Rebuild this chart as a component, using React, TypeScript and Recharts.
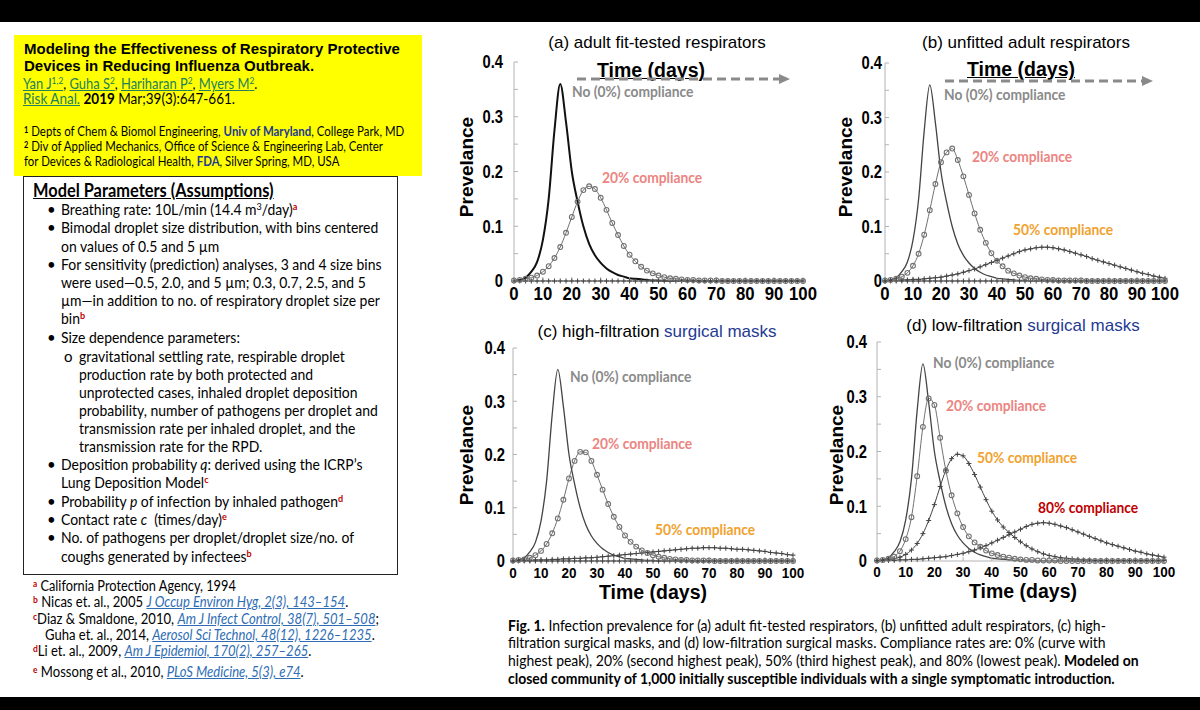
import React from "react";
import { Line, LineChart, XAxis, YAxis } from "recharts";

const days = [
  0, 2, 4, 6, 8, 10, 12, 14, 16, 18, 20, 22, 24, 26, 28, 30, 32, 34, 36, 38, 40, 42, 44, 46, 48, 50,
  52, 54, 56, 58, 60, 62, 64, 66, 68, 70, 72, 74, 76, 78, 80, 82, 84, 86, 88, 90, 92, 94, 96, 98, 100,
];

// 0% compliance, same curve in every panel
const noCompliance = [
  0.0, 0.002, 0.006, 0.017, 0.035, 0.075, 0.15, 0.275, 0.36, 0.29, 0.2, 0.145, 0.1, 0.068, 0.047, 0.033,
  0.023, 0.016, 0.011, 0.008, 0.005, 0.004, 0.003, 0.002, 0.001, 0.001,
  0, 0, 0, 0, 0, 0, 0, 0, 0, 0, 0, 0, 0, 0, 0, 0, 0, 0, 0, 0, 0, 0, 0, 0, 0,
];

const nearZero = [
  0, 0, 0, 0, 0, 0, 0, 0, 0, 0, 0, 0, 0, 0, 0, 0, 0, 0, 0, 0, 0, 0, 0, 0, 0, 0,
  0, 0, 0, 0, 0, 0, 0, 0, 0, 0, 0, 0, 0, 0, 0, 0, 0, 0, 0, 0, 0, 0, 0, 0, 0,
];

// (a) adult fit-tested respirators
const fitTested20 = [
  0.001, 0.002, 0.004, 0.006, 0.01, 0.017, 0.027, 0.042, 0.062, 0.088, 0.117, 0.145, 0.166, 0.173, 0.168,
  0.152, 0.13, 0.106, 0.084, 0.064, 0.048, 0.036, 0.026, 0.019, 0.014, 0.01,
  0.007, 0.005, 0.004, 0.003, 0.002, 0.002, 0.001, 0.001, 0.001, 0.001,
  0, 0, 0, 0, 0, 0, 0, 0, 0, 0, 0, 0, 0, 0, 0,
];

// (b) unfitted adult respirators
const unfitted20 = [
  0.001, 0.002, 0.004, 0.008, 0.015, 0.028, 0.05, 0.085, 0.13, 0.178, 0.218, 0.236, 0.243, 0.222, 0.192,
  0.158, 0.124, 0.094, 0.07, 0.051, 0.037, 0.027, 0.019, 0.014, 0.01, 0.007,
  0.005, 0.004, 0.003, 0.002, 0.002, 0.001, 0.001, 0.001, 0.001, 0.001,
  0, 0, 0, 0, 0, 0, 0, 0, 0, 0, 0, 0, 0, 0, 0,
];
const unfitted50 = [
  0.0, 0.001, 0.001, 0.002, 0.002, 0.003, 0.003, 0.004, 0.005, 0.006, 0.007, 0.009, 0.011, 0.013, 0.016,
  0.019, 0.022, 0.026, 0.03, 0.034, 0.038, 0.042, 0.046, 0.05, 0.054, 0.057,
  0.059, 0.061, 0.062, 0.062, 0.061, 0.059, 0.057, 0.054, 0.051, 0.048, 0.045, 0.041, 0.038, 0.035, 0.032,
  0.029, 0.026, 0.023, 0.02, 0.017, 0.014, 0.012, 0.009, 0.007, 0.005,
];

// (c) high-filtration surgical masks
const highFilt20 = [
  0.001, 0.002, 0.003, 0.006, 0.011, 0.019, 0.032, 0.052, 0.08, 0.115, 0.155, 0.188, 0.205, 0.204, 0.188,
  0.162, 0.134, 0.107, 0.083, 0.064, 0.048, 0.036, 0.027, 0.02, 0.015, 0.011,
  0.008, 0.006, 0.004, 0.003, 0.002, 0.002, 0.001, 0.001, 0.001, 0.001,
  0, 0, 0, 0, 0, 0, 0, 0, 0, 0, 0, 0, 0, 0, 0,
];
const highFilt50 = [
  0.0, 0.001, 0.001, 0.001, 0.002, 0.002, 0.002, 0.003, 0.003, 0.004, 0.004, 0.005, 0.005, 0.006, 0.006,
  0.007, 0.008, 0.009, 0.01, 0.011, 0.012, 0.013, 0.014, 0.015, 0.016, 0.017,
  0.018, 0.019, 0.02, 0.021, 0.022, 0.023, 0.024, 0.024, 0.025, 0.025, 0.025, 0.024, 0.024, 0.023, 0.022,
  0.022, 0.021, 0.02, 0.019, 0.018, 0.016, 0.015, 0.014, 0.012, 0.011,
];

// (d) low-filtration surgical masks
const lowFilt20 = [
  0.001, 0.002, 0.004, 0.008, 0.018, 0.04, 0.08, 0.155, 0.245, 0.297, 0.285, 0.225, 0.165, 0.12, 0.087,
  0.062, 0.045, 0.034, 0.026, 0.019, 0.014, 0.011, 0.008, 0.006, 0.004, 0.003,
  0.002, 0.002, 0.001, 0.001, 0.001, 0.001,
  0, 0, 0, 0, 0, 0, 0, 0, 0, 0, 0, 0, 0, 0, 0, 0, 0, 0, 0,
];
const lowFilt50 = [
  0.001, 0.001, 0.002, 0.004, 0.007, 0.012, 0.02, 0.032, 0.05, 0.074, 0.103, 0.136, 0.166, 0.187, 0.195,
  0.192, 0.178, 0.158, 0.135, 0.112, 0.091, 0.075, 0.062, 0.052, 0.043, 0.035,
  0.028, 0.022, 0.017, 0.013, 0.01, 0.008, 0.006, 0.005, 0.004, 0.003, 0.002, 0.002,
  0.001, 0.001, 0.001, 0.001, 0.001, 0.001, 0.001, 0.001, 0.001, 0.001, 0.001, 0.001, 0.001,
];
const lowFilt80 = [
  0.0, 0.001, 0.001, 0.001, 0.002, 0.002, 0.003, 0.003, 0.004, 0.005, 0.006, 0.007, 0.008, 0.01, 0.012,
  0.014, 0.017, 0.02, 0.024, 0.028, 0.033, 0.038, 0.043, 0.048, 0.053, 0.058,
  0.063, 0.067, 0.069, 0.07, 0.069, 0.067, 0.064, 0.061, 0.057, 0.053, 0.049, 0.045, 0.041, 0.037, 0.033,
  0.03, 0.027, 0.024, 0.021, 0.018, 0.016, 0.013, 0.011, 0.009, 0.007,
];

const xTicks = [0, 10, 20, 30, 40, 50, 60, 70, 80, 90, 100];
const yTicks = [0, 0.05, 0.1, 0.15, 0.2, 0.25, 0.3, 0.35, 0.4];

const CAL = "Lato, 'Open Sans', sans-serif";
const ARIAL = "'Liberation Sans', Arial, sans-serif";
const FRAME = "#b3b3b3";
const GREY_TXT = "#8a8a8a";
const PINK = "#ec8481";
const ORANGE = "#f1a22e";
const DARKRED = "#c00000";
const LINK_GREEN = "#23805c";
const LINK_BLUE = "#2e6db4";
const NAVY = "#1f3a93";
const SX = 0.93;

const rowsA = days.map((day, i) => ({ day, c0: noCompliance[i], c20: fitTested20[i], c50: nearZero[i] }));
const rowsB = days.map((day, i) => ({ day, c0: noCompliance[i], c20: unfitted20[i], c50: unfitted50[i], c80: nearZero[i] }));
const rowsC = days.map((day, i) => ({ day, c0: noCompliance[i], c20: highFilt20[i], c50: highFilt50[i], c80: nearZero[i] }));
const rowsD = days.map((day, i) => ({ day, c0: noCompliance[i], c20: lowFilt20[i], c50: lowFilt50[i], c80: lowFilt80[i] }));

type Kind = "solid" | "circle" | "plus";
interface Series {
  key: string;
  kind: Kind;
  color: string;
  width: number;
}

function plusDot(color: string) {
  return (p: any) => {
    const { cx, cy, index } = p;
    if (typeof cx !== "number" || typeof cy !== "number") return <g key={`n${index}`} />;
    return (
      <path
        key={`p${index}`}
        d={`M${cx - 2.5},${cy}H${cx + 2.5}M${cx},${cy - 2.5}V${cy + 2.5}`}
        stroke={color}
        strokeWidth={1}
        fill="none"
      />
    );
  };
}

// bold Helvetica-ish tick labels, squeezed horizontally like the MATLAB export
function boldTick(size: number, sx: number, axis: "x" | "y") {
  return (p: any) => {
    const { x, y, payload, textAnchor, index } = p;
    const v = payload.value as number;
    const label = axis === "y" ? (Math.round(v * 100) % 10 === 0 ? String(v) : "") : String(v);
    if (!label) return <g key={`e${index}`} />;
    return (
      <text
        key={`t${index}`}
        x={0}
        y={0}
        transform={`translate(${x},${y}) scale(${sx},1)`}
        textAnchor={textAnchor}
        dy={axis === "x" ? "0.71em" : "0.355em"}
        fontSize={size}
        fontWeight={700}
        fontFamily={ARIAL}
        fill="#000"
      >
        {label}
      </text>
    );
  };
}

interface PanelProps {
  left: number;
  top: number;
  width: number;
  height: number;
  margin: { top: number; right: number; left: number; bottom: number };
  yWidth: number;
  yGap: number;
  xGap: number;
  xFont: number;
  rows: object[];
  series: Series[];
}

function Panel({ left, top, width, height, margin, yWidth, yGap, xGap, xFont, rows, series }: PanelProps) {
  return (
    <div style={{ position: "absolute", left, top }}>
      <LineChart width={width} height={height} data={rows} margin={margin}>
        <XAxis
          dataKey="day"
          type="number"
          domain={[0, 100]}
          ticks={xTicks}
          interval={0}
          tick={boldTick(xFont, 0.93, "x")}
          axisLine={{ stroke: FRAME }}
          tickLine={{ stroke: FRAME }}
          tickSize={-4}
          tickMargin={xGap}
          height={29}
        />
        <XAxis
          xAxisId="top"
          orientation="top"
          dataKey="day"
          type="number"
          domain={[0, 100]}
          ticks={xTicks}
          tick={false}
          mirror
          height={0}
          tickSize={4}
          axisLine={{ stroke: FRAME }}
          tickLine={{ stroke: FRAME }}
        />
        <YAxis
          domain={[0, 0.4]}
          ticks={yTicks}
          interval={0}
          width={yWidth}
          tick={boldTick(18, 0.82, "y")}
          axisLine={{ stroke: FRAME }}
          tickLine={{ stroke: FRAME }}
          tickSize={-4}
          tickMargin={yGap}
        />
        <YAxis
          yAxisId="right"
          orientation="right"
          domain={[0, 0.4]}
          ticks={yTicks}
          tick={false}
          mirror
          width={0}
          tickSize={4}
          axisLine={{ stroke: FRAME }}
          tickLine={{ stroke: FRAME }}
        />
        {series.map((s) => (
          <Line
            key={s.key}
            dataKey={s.key}
            type="monotone"
            stroke={s.color}
            strokeWidth={s.width}
            dot={
              s.kind === "circle"
                ? { r: 2.4, stroke: s.color, strokeWidth: 1.1, fill: "none" }
                : s.kind === "plus"
                ? plusDot(s.color)
                : false
            }
            activeDot={false}
            isAnimationActive={false}
          />
        ))}
      </LineChart>
    </div>
  );
}

interface TProps {
  x: number;
  y: number;
  size: number;
  children: React.ReactNode;
  font?: string;
  weight?: number;
  color?: string;
  sx?: number;
  middle?: boolean;
  style?: React.CSSProperties;
}

// y is the text baseline
function T({ x, y, size, children, font = CAL, weight = 400, color = "#000", sx = 1, middle = false, style }: TProps) {
  const asc = font === CAL ? 0.887 : 0.85;
  return (
    <div
      style={{
        position: "absolute",
        left: x,
        top: y - size * asc,
        fontFamily: font,
        fontSize: size,
        fontWeight: weight,
        color,
        lineHeight: `${size}px`,
        whiteSpace: "nowrap",
        transform: `${middle ? "translateX(-50%) " : ""}scaleX(${sx})`,
        transformOrigin: middle ? "center" : "left",
        ...style,
      }}
    >
      {children}
    </div>
  );
}

function Sup({ children, color, bold }: { children: React.ReactNode; color?: string; bold?: boolean }) {
  return (
    <span
      style={{
        fontSize: "0.65em",
        position: "relative",
        top: "-0.45em",
        color,
        fontWeight: bold ? 700 : undefined,
      }}
    >
      {children}
    </span>
  );
}

function Link({ children, color = LINK_GREEN, italic }: { children: React.ReactNode; color?: string; italic?: boolean }) {
  return (
    <span style={{ color, textDecoration: "underline", fontStyle: italic ? "italic" : undefined }}>{children}</span>
  );
}

function YLabel({ x, y }: { x: number; y: number }) {
  return (
    <div
      style={{
        position: "absolute",
        left: x,
        top: y,
        transform: "translate(-50%, -50%) rotate(-90deg)",
        fontFamily: ARIAL,
        fontWeight: 700,
        fontSize: 19,
        whiteSpace: "nowrap",
      }}
    >
      Prevelance
    </div>
  );
}

function TimeArrow({ x1, x2, y }: { x1: number; x2: number; y: number }) {
  const w = x2 - x1;
  return (
    <svg style={{ position: "absolute", left: x1, top: y - 6 }} width={w} height={12}>
      <line x1={0} y1={6} x2={w - 10} y2={6} stroke="#8a8a8a" strokeWidth={3} strokeDasharray="9 5" />
      <polygon points={`${w - 11},1 ${w},6 ${w - 11},11`} fill="#8a8a8a" />
    </svg>
  );
}

const Bullet = ({ y }: { y: number }) => (
  <T x={47} y={y} size={15}>
    •
  </T>
);

export default function App() {
  const c0 = (color: string, width: number): Series => ({ key: "c0", kind: "solid", color, width });
  const c20: Series = { key: "c20", kind: "circle", color: "#717171", width: 1 };
  const c50: Series = { key: "c50", kind: "plus", color: "#444", width: 1 };
  const c80: Series = { key: "c80", kind: "plus", color: "#444", width: 1 };
  const note = { size: 15, weight: 700, sx: 0.92 };

  return (
    <div
      style={{
        position: "fixed",
        left: 0,
        top: 0,
        width: 1200,
        height: 710,
        background: "#fff",
        overflow: "hidden",
        fontFamily: CAL,
      }}
    >
      <div style={{ position: "absolute", left: 0, top: 0, width: 1200, height: 22, background: "#000" }} />
      <div style={{ position: "absolute", left: 0, top: 697, width: 1200, height: 13, background: "#000" }} />

      {/* citation block */}
      <div style={{ position: "absolute", left: 14, top: 35, width: 408, height: 141, background: "#ffff00" }} />
      <T x={24} y={54} size={15} font={ARIAL} weight={700}>
        Modeling the Effectiveness of Respiratory Protective
      </T>
      <T x={24} y={71} size={15} font={ARIAL} weight={700}>
        Devices in Reducing Influenza Outbreak.
      </T>
      <T x={23} y={89} size={15} sx={0.86}>
        <Link>
          Yan J<Sup>1,2</Sup>
        </Link>
        , <Link>
          Guha S<Sup>2</Sup>
        </Link>
        , <Link>
          Hariharan P<Sup>2</Sup>
        </Link>
        , <Link>
          Myers M<Sup>2</Sup>
        </Link>
        .
      </T>
      <T x={23} y={104} size={15} sx={0.9}>
        <Link>Risk Anal.</Link> <b>2019</b> Mar;39(3):647-661.
      </T>
      <T x={24} y={137} size={13} sx={0.88}>
        <Sup bold>1</Sup> Depts of Chem &amp; Biomol Engineering, <b style={{ color: NAVY }}>Univ of Maryland</b>, College
        Park, MD
      </T>
      <T x={24} y={152} size={13} sx={0.88}>
        <Sup bold>2</Sup> Div of Applied Mechanics, Office of Science &amp; Engineering Lab, Center
      </T>
      <T x={24} y={167} size={13} sx={0.88}>
        for Devices &amp; Radiological Health, <b style={{ color: NAVY }}>FDA</b>, Silver Spring, MD, USA
      </T>

      {/* model parameters */}
      <div
        style={{
          position: "absolute",
          left: 23,
          top: 176,
          width: 373,
          height: 397,
          border: "1.5px solid #222",
        }}
      />
      <T x={33} y={197} size={18} weight={700} sx={0.91} style={{ textDecoration: "underline" }}>
        Model Parameters (Assumptions)
      </T>
      <Bullet y={215} />
      <T x={61} y={215} size={15} sx={SX}>
        Breathing rate: 10L/min (14.4 m<Sup>3</Sup>/day)<Sup color={DARKRED} bold>a</Sup>
      </T>
      <Bullet y={233} />
      <T x={61} y={233} size={15} sx={SX}>
        Bimodal droplet size distribution, with bins centered
      </T>
      <T x={61} y={252} size={15} sx={SX}>
        on values of 0.5 and 5 µm
      </T>
      <Bullet y={270} />
      <T x={61} y={270} size={15} sx={SX}>
        For sensitivity (prediction) analyses, 3 and 4 size bins
      </T>
      <T x={61} y={288} size={15} sx={SX}>
        were used—0.5, 2.0, and 5 µm; 0.3, 0.7, 2.5, and 5
      </T>
      <T x={61} y={306} size={15} sx={SX}>
        µm—in addition to no. of respiratory droplet size per
      </T>
      <T x={61} y={324} size={15} sx={SX}>
        bin<Sup color={DARKRED} bold>b</Sup>
      </T>
      <Bullet y={343} />
      <T x={61} y={343} size={15} sx={SX}>
        Size dependence parameters:
      </T>
      <T x={64} y={362} size={15}>
        o
      </T>
      <T x={79} y={362} size={15} sx={SX}>
        gravitational settling rate, respirable droplet
      </T>
      <T x={79} y={380} size={15} sx={SX}>
        production rate by both protected and
      </T>
      <T x={79} y={398} size={15} sx={SX}>
        unprotected cases, inhaled droplet deposition
      </T>
      <T x={79} y={416} size={15} sx={SX}>
        probability, number of pathogens per droplet and
      </T>
      <T x={79} y={434} size={15} sx={SX}>
        transmission rate per inhaled droplet, and the
      </T>
      <T x={79} y={452} size={15} sx={SX}>
        transmission rate for the RPD.
      </T>
      <Bullet y={470} />
      <T x={61} y={470} size={15} sx={SX}>
        Deposition probability <i>q</i>: derived using the ICRP’s
      </T>
      <T x={61} y={488} size={15} sx={SX}>
        Lung Deposition Model<Sup color={DARKRED} bold>c</Sup>
      </T>
      <Bullet y={507} />
      <T x={61} y={507} size={15} sx={SX}>
        Probability <i>p</i> of infection by inhaled pathogen<Sup color={DARKRED} bold>d</Sup>
      </T>
      <Bullet y={525} />
      <T x={61} y={525} size={15} sx={SX}>
        Contact rate <i>c</i>&nbsp; (times/day)<Sup color={DARKRED} bold>e</Sup>
      </T>
      <Bullet y={543} />
      <T x={61} y={543} size={15} sx={SX}>
        No. of pathogens per droplet/droplet size/no. of
      </T>
      <T x={61} y={562} size={15} sx={SX}>
        coughs generated by infectees<Sup color={DARKRED} bold>b</Sup>
      </T>

      {/* references */}
      <T x={33} y={592} size={14.5} sx={0.88}>
        <Sup color={DARKRED} bold>a</Sup> California Protection Agency, 1994
      </T>
      <T x={33} y={608} size={14.5} sx={0.9}>
        <Sup color={DARKRED} bold>b</Sup> Nicas et. al., 2005{" "}
        <Link color={LINK_BLUE} italic>
          J Occup Environ Hyg, 2(3), 143–154
        </Link>
        .
      </T>
      <T x={33} y={625} size={14.5} sx={0.9}>
        <Sup color={DARKRED} bold>c</Sup>Diaz &amp; Smaldone, 2010,{" "}
        <Link color={LINK_BLUE} italic>
          Am J Infect Control, 38(7), 501–508
        </Link>
        ;
      </T>
      <T x={45} y={641} size={14.5} sx={0.9}>
        Guha et. al., 2014,{" "}
        <Link color={LINK_BLUE} italic>
          Aerosol Sci Technol, 48(12), 1226–1235
        </Link>
        .
      </T>
      <T x={33} y={657} size={14.5} sx={0.9}>
        <Sup color={DARKRED} bold>d</Sup>Li et. al., 2009,{" "}
        <Link color={LINK_BLUE} italic>
          Am J Epidemiol, 170(2), 257–265
        </Link>
        .
      </T>
      <T x={33} y={678} size={14.5} sx={0.9}>
        <Sup color={DARKRED} bold>e</Sup> Mossong et al., 2010,{" "}
        <Link color={LINK_BLUE} italic>
          PLoS Medicine, 5(3), e74
        </Link>
        .
      </T>

      {/* panel (a) */}
      <Panel
        left={440}
        top={40}
        width={385}
        height={270}
        margin={{ top: 22, right: 22, left: 0, bottom: 0 }}
        yWidth={74}
        yGap={15}
        xGap={10}
        xFont={18}
        rows={rowsA}
        series={[c50, c20, c0("#111", 2)]}
      />
      <T x={657} y={48} size={17} font={ARIAL} middle>
        (a) adult fit-tested respirators
      </T>
      <YLabel x={467} y={167} />
      <T x={651} y={78} size={19.5} font={ARIAL} weight={700} middle style={{ textDecoration: "underline" }}>
        Time (days)
      </T>
      <TimeArrow x1={577} x2={790} y={79} />
      <T x={572} y={97} {...note} color={GREY_TXT}>
        No (0%) compliance
      </T>
      <T x={602} y={183} {...note} color={PINK}>
        20% compliance
      </T>

      {/* panel (b) */}
      <Panel
        left={815}
        top={40}
        width={372}
        height={270}
        margin={{ top: 23, right: 22, left: 0, bottom: 0 }}
        yWidth={70}
        yGap={7}
        xGap={10}
        xFont={18}
        rows={rowsB}
        series={[c80, c50, c20, c0("#444", 1.3)]}
      />
      <T x={1026} y={48} size={17} font={ARIAL} middle>
        (b) unfitted adult respirators
      </T>
      <YLabel x={846} y={167} />
      <T x={1021} y={77} size={19.5} font={ARIAL} weight={700} middle style={{ textDecoration: "underline" }}>
        Time (days)
      </T>
      <TimeArrow x1={945} x2={1153} y={81} />
      <T x={944} y={100} {...note} color={GREY_TXT}>
        No (0%) compliance
      </T>
      <T x={972} y={162} {...note} color={PINK}>
        20% compliance
      </T>
      <T x={1013} y={235} {...note} color={ORANGE}>
        50% compliance
      </T>

      {/* panel (c) */}
      <Panel
        left={440}
        top={330}
        width={375}
        height={260}
        margin={{ top: 18, right: 22, left: 0, bottom: 0 }}
        yWidth={73}
        yGap={12}
        xGap={11}
        xFont={14.5}
        rows={rowsC}
        series={[c80, c50, c20, c0("#444", 1.3)]}
      />
      <T x={657} y={337} size={17} font={ARIAL} middle>
        (c) high-filtration <span style={{ color: NAVY }}>surgical masks</span>
      </T>
      <YLabel x={467} y={455} />
      <T x={653} y={600} size={19.5} font={ARIAL} weight={700} middle>
        Time (days)
      </T>
      <T x={570} y={382} {...note} color={GREY_TXT}>
        No (0%) compliance
      </T>
      <T x={592} y={449} {...note} color={PINK}>
        20% compliance
      </T>
      <T x={655} y={535} {...note} color={ORANGE}>
        50% compliance
      </T>

      {/* panel (d) */}
      <Panel
        left={810}
        top={330}
        width={376}
        height={260}
        margin={{ top: 12, right: 22, left: 0, bottom: 0 }}
        yWidth={67}
        yGap={14}
        xGap={10}
        xFont={14.5}
        rows={rowsD}
        series={[c80, c50, c20, c0("#444", 1.3)]}
      />
      <T x={1023} y={331} size={17} font={ARIAL} middle>
        (d) low-filtration <span style={{ color: NAVY }}>surgical masks</span>
      </T>
      <YLabel x={837} y={455} />
      <T x={1023} y={599} size={19.5} font={ARIAL} weight={700} middle>
        Time (days)
      </T>
      <T x={933} y={368} {...note} color={GREY_TXT}>
        No (0%) compliance
      </T>
      <T x={946} y={411} {...note} color={PINK}>
        20% compliance
      </T>
      <T x={977} y={463} {...note} color={ORANGE}>
        50% compliance
      </T>
      <T x={1038} y={513} {...note} color={DARKRED}>
        80% compliance
      </T>

      {/* caption */}
      <T x={508} y={631} size={15} sx={SX}>
        <b>Fig. 1.</b> Infection prevalence for (a) adult fit-tested respirators, (b) unfitted adult respirators, (c) high-
      </T>
      <T x={508} y={648} size={15} sx={SX}>
        filtration surgical masks, and (d) low-filtration surgical masks. Compliance rates are: 0% (curve with
      </T>
      <T x={508} y={666} size={15} sx={SX}>
        highest peak), 20% (second highest peak), 50% (third highest peak), and 80% (lowest peak). <b>Modeled on</b>
      </T>
      <T x={508} y={684} size={15} sx={SX}>
        <b>closed community of 1,000 initially susceptible individuals with a single symptomatic introduction.</b>
      </T>
    </div>
  );
}
